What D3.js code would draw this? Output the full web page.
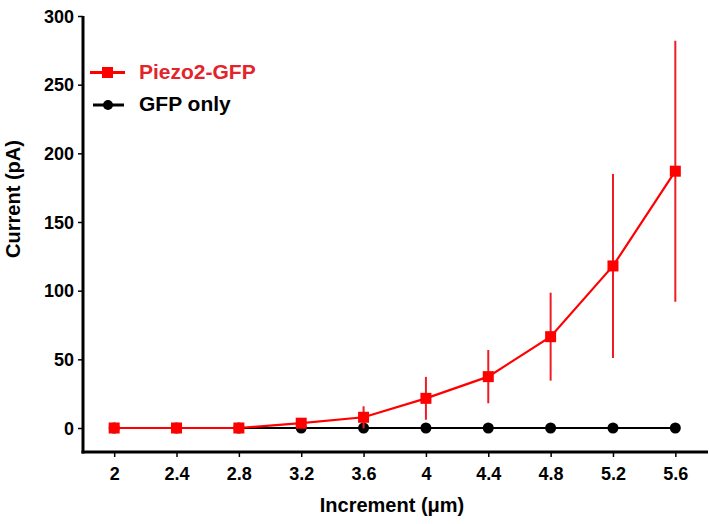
<!DOCTYPE html>
<html><head><meta charset="utf-8">
<script src="https://cdn.jsdelivr.net/npm/d3@7"></script>
<style>body{margin:0;background:#fff}svg{display:block}text{font-family:"Liberation Sans",Arial,sans-serif;font-weight:bold}</style>
</head><body><svg id="c" width="709" height="524"></svg>
<script>
const increments = [2, 2.4, 2.8, 3.2, 3.6, 4, 4.4, 4.8, 5.2, 5.6];
const piezoMean = [0, 0, 0, 3.5, 7.8, 21.6, 37.4, 66.5, 118, 187];
const piezoErr = [0, 0, 0, 3, 8, 15.6, 19.4, 32, 67, 95];
const gfpMean = [0, 0, 0, 0, 0, 0, 0, 0, 0, 0];
const xTicks = [2, 2.4, 2.8, 3.2, 3.6, 4, 4.4, 4.8, 5.2, 5.6];
const yTicks = [0, 50, 100, 150, 200, 250, 300];
const seriesNames = ["Piezo2-GFP", "GFP only"];

const svg = d3.select("#c");
const x = d3.scaleLinear().domain([1.8, 5.8]).range([83, 706.5]);
const y = d3.scaleLinear().domain([0, 300]).range([428, 16]);
const xAxisY = 452;

const red = "#ff0000";
// axes
const gx = svg.append("g").attr("transform", `translate(0,${xAxisY})`)
  .call(d3.axisBottom(x).tickValues(xTicks).tickSize(5).tickSizeOuter(0).tickPadding(10).tickFormat(d3.format("")));
const gy = svg.append("g").attr("transform", `translate(83,0)`)
  .call(d3.axisLeft(y).tickValues(yTicks).tickSize(5).tickSizeOuter(0).tickPadding(4));
[gx, gy].forEach(g => {
  g.select(".domain").remove();
  g.selectAll(".tick line").attr("stroke", "#000").attr("stroke-width", 1.5);
  g.selectAll(".tick text").attr("font-size", 18).attr("fill", "#000");
});
gy.selectAll(".tick text").attr("dy", "0.35em");
svg.append("line").attr("x1", 83).attr("x2", 83).attr("y1", y(300)).attr("y2", xAxisY + 1.5).attr("stroke", "#000").attr("stroke-width", 3);
svg.append("line").attr("x1", 81.5).attr("x2", 708).attr("y1", xAxisY).attr("y2", xAxisY).attr("stroke", "#000").attr("stroke-width", 3);

// GFP series
const gfp = increments.map((d, i) => ({x: d, y: gfpMean[i]}));
const line = d3.line().x(d => x(d.x)).y(d => y(d.y));
svg.append("path").datum(gfp).attr("d", line).attr("fill", "none").attr("stroke", "#000").attr("stroke-width", 2);
svg.selectAll("circle.g").data(gfp).join("circle").attr("cx", d => x(d.x)).attr("cy", d => y(d.y)).attr("r", 5.5).attr("fill", "#000");

// Piezo series
const pz = increments.map((d, i) => ({x: d, y: piezoMean[i], e: piezoErr[i]}));
svg.selectAll("line.err").data(pz.filter(d => d.e > 0)).join("line")
  .attr("x1", d => x(d.x)).attr("x2", d => x(d.x))
  .attr("y1", d => y(d.y + d.e)).attr("y2", d => y(d.y - d.e))
  .attr("stroke", "#ee1c24").attr("stroke-width", 2);
svg.append("path").datum(pz).attr("d", line).attr("fill", "none").attr("stroke", red).attr("stroke-width", 2.2);
svg.selectAll("rect.p").data(pz).join("rect").attr("x", d => x(d.x) - 5.5).attr("y", d => y(d.y) - 5.5)
  .attr("width", 11).attr("height", 11).attr("fill", red);

// legend
const leg = svg.append("g");
leg.append("line").attr("x1", 90).attr("x2", 125).attr("y1", 72.5).attr("y2", 72.5).attr("stroke", red).attr("stroke-width", 3);
leg.append("rect").attr("x", 102).attr("y", 67).attr("width", 11).attr("height", 11).attr("fill", red);
leg.append("text").attr("x", 139).attr("y", 78.5).attr("font-size", 21).attr("fill", "#e3242b").text(seriesNames[0]);
leg.append("line").attr("x1", 93).attr("x2", 124).attr("y1", 105).attr("y2", 105).attr("stroke", "#000").attr("stroke-width", 3);
leg.append("circle").attr("cx", 108).attr("cy", 105).attr("r", 5).attr("fill", "#000");
leg.append("text").attr("x", 139).attr("y", 110.5).attr("font-size", 21).attr("fill", "#000").text(seriesNames[1]);

// titles
svg.append("text").attr("x", 392).attr("y", 512).attr("text-anchor", "middle").attr("font-size", 20).text("Increment (μm)");
svg.append("text").attr("transform", "translate(20,199) rotate(-90)").attr("text-anchor", "middle").attr("font-size", 20).text("Current (pA)");
</script></body></html>
